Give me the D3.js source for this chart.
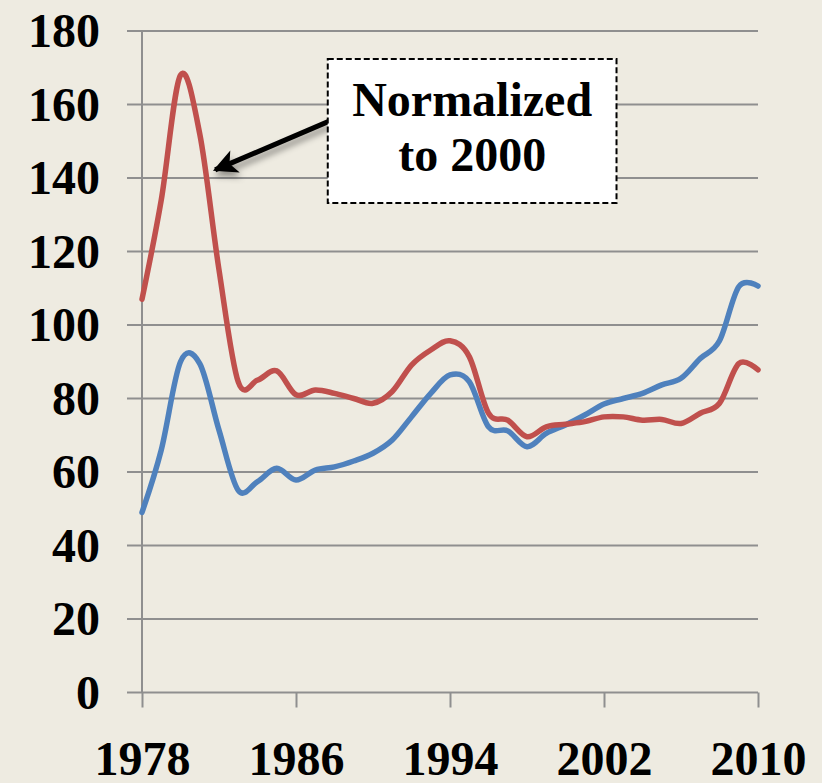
<!DOCTYPE html>
<html>
<head>
<meta charset="utf-8">
<script src="https://cdn.jsdelivr.net/npm/d3@7"></script>
<style>
  html, body { margin: 0; padding: 0; background: #EEEBE1; }
  svg { display: block; }
</style>
</head>
<body>
<svg id="chart"></svg>
<script>
// Data
const years = [1978, 1979, 1980, 1981, 1982, 1983, 1984, 1985, 1986, 1987, 1988,
    1989, 1990, 1991, 1992, 1993, 1994, 1995, 1996, 1997, 1998, 1999, 2000,
    2001, 2002, 2003, 2004, 2005, 2006, 2007, 2008, 2009, 2010];
const redValues = [107, 134, 168, 152, 115, 84.5, 85, 87.5, 81, 82.3, 81.4,
    80, 78.7, 81.9, 89.1, 93.2, 95.7, 91.4, 76, 74.1, 69.6, 72.3, 73,
    73.7, 75, 75, 74.1, 74.3, 73.2, 76, 78.7, 89.5, 87.8];
const blueValues = [49, 66, 90, 89.5, 71.4, 55, 57.4, 61, 57.8, 60.5, 61.4,
    63, 65.1, 68.7, 75, 81.4, 86.4, 84.6, 72.3, 71.2, 66.9, 70.5, 72.8,
    75.5, 78.5, 80, 81.4, 83.7, 85.5, 90.9, 95.7, 110.4, 110.6];
const xTickYears = [1978, 1986, 1994, 2002, 2010];
const yTickValues = [0, 20, 40, 60, 80, 100, 120, 140, 160, 180];
const noteLines = ['Normalized', 'to 2000'];

// SVG setup
const svg = d3.select('#chart');
const width = 822;
const height = 783;
const margin = { top: 31, right: 64, bottom: 90.5, left: 142 };

svg.attr('width', width).attr('height', height);

svg.append('rect')
    .attr('width', width)
    .attr('height', height)
    .attr('fill', '#EEEBE1');

// Scales
const xScale = d3.scaleLinear()
    .domain([1978, 2010])
    .range([margin.left, width - margin.right]);

const yScale = d3.scaleLinear()
    .domain([0, 180])
    .range([height - margin.bottom, margin.top]);

const gridColor = '#8F8F8F';
const fontFamily = '"Liberation Serif", "Times New Roman", serif';

// Horizontal gridlines (with left tick stubs)
svg.append('g')
    .selectAll('line')
    .data(yTickValues)
    .join('line')
    .attr('x1', margin.left - 15)
    .attr('x2', width - margin.right)
    .attr('y1', d => yScale(d))
    .attr('y2', d => yScale(d))
    .attr('stroke', gridColor)
    .attr('stroke-width', 2);

// Y axis line
svg.append('line')
    .attr('x1', margin.left)
    .attr('x2', margin.left)
    .attr('y1', yScale(180))
    .attr('y2', yScale(0))
    .attr('stroke', gridColor)
    .attr('stroke-width', 2);

// X axis ticks + labels
const xAxis = d3.axisBottom(xScale)
    .tickValues(xTickYears)
    .tickFormat(d3.format('d'))
    .tickSize(15)
    .tickPadding(33);

const xg = svg.append('g')
    .attr('transform', `translate(0, ${yScale(0)})`)
    .call(xAxis);
xg.select('.domain').remove();
xg.selectAll('line').attr('stroke', gridColor).attr('stroke-width', 2);
xg.selectAll('text')
    .attr('fill', '#000')
    .attr('font-family', fontFamily)
    .attr('font-weight', 'bold')
    .attr('font-size', '48px');

// Y axis labels
svg.append('g')
    .selectAll('text')
    .data(yTickValues)
    .join('text')
    .attr('x', 100)
    .attr('y', d => yScale(d) + 16)
    .attr('text-anchor', 'end')
    .attr('font-family', fontFamily)
    .attr('font-weight', 'bold')
    .attr('font-size', '48px')
    .attr('fill', '#000')
    .text(d => d);

// Smoothed lines
const line = d3.line()
    .x((d, i) => xScale(years[i]))
    .y(d => yScale(d))
    .curve(d3.curveCatmullRom.alpha(0));

svg.append('path')
    .datum(blueValues)
    .attr('fill', 'none')
    .attr('stroke', '#4F81BD')
    .attr('stroke-width', 5.5)
    .attr('stroke-linejoin', 'round')
    .attr('stroke-linecap', 'round')
    .attr('d', line);

svg.append('path')
    .datum(redValues)
    .attr('fill', 'none')
    .attr('stroke', '#C0504D')
    .attr('stroke-width', 5.5)
    .attr('stroke-linejoin', 'round')
    .attr('stroke-linecap', 'round')
    .attr('d', line);

// Annotation: arrow with soft shadow
const defs = svg.append('defs');
const shadow = defs.append('filter')
    .attr('id', 'shadow')
    .attr('x', '-20%').attr('y', '-50%')
    .attr('width', '140%').attr('height', '200%');
shadow.append('feDropShadow')
    .attr('dx', 2).attr('dy', 5)
    .attr('stdDeviation', 3)
    .attr('flood-color', '#000')
    .attr('flood-opacity', 0.4);

defs.append('marker')
    .attr('id', 'arrowhead')
    .attr('viewBox', '0 0 10 10')
    .attr('refX', 9)
    .attr('refY', 5)
    .attr('markerUnits', 'userSpaceOnUse')
    .attr('markerWidth', 28)
    .attr('markerHeight', 24)
    .attr('orient', 'auto')
    .append('path')
    .attr('d', 'M0,0 L10,5 L0,10 L2.5,5 z')
    .attr('fill', '#000');

// arrow from box (tail) to the red peak (tip), in data units
const arrowTail = { year: 1987.7, value: 155.4 };
const arrowTip = { year: 1981.8, value: 142.2 };

svg.append('line')
    .attr('x1', xScale(arrowTail.year))
    .attr('y1', yScale(arrowTail.value))
    .attr('x2', xScale(arrowTip.year))
    .attr('y2', yScale(arrowTip.value))
    .attr('stroke', '#000')
    .attr('stroke-width', 5)
    .attr('marker-end', 'url(#arrowhead)')
    .attr('filter', 'url(#shadow)');

// Note box
const box = { x0: 1987.65, x1: 2002.65, top: 172.4, bottom: 133.2 };
svg.append('rect')
    .attr('x', xScale(box.x0))
    .attr('y', yScale(box.top))
    .attr('width', xScale(box.x1) - xScale(box.x0))
    .attr('height', yScale(box.bottom) - yScale(box.top))
    .attr('fill', '#fff')
    .attr('stroke', '#000')
    .attr('stroke-width', 2)
    .attr('stroke-dasharray', '6,3');

svg.append('g')
    .selectAll('text')
    .data(noteLines)
    .join('text')
    .attr('x', (xScale(box.x0) + xScale(box.x1)) / 2)
    .attr('y', (d, i) => yScale(box.top) + 57 + i * 55.5)
    .attr('text-anchor', 'middle')
    .attr('font-family', fontFamily)
    .attr('font-weight', 'bold')
    .attr('font-size', '48px')
    .attr('fill', '#000')
    .text(d => d);
</script>
</body>
</html>
